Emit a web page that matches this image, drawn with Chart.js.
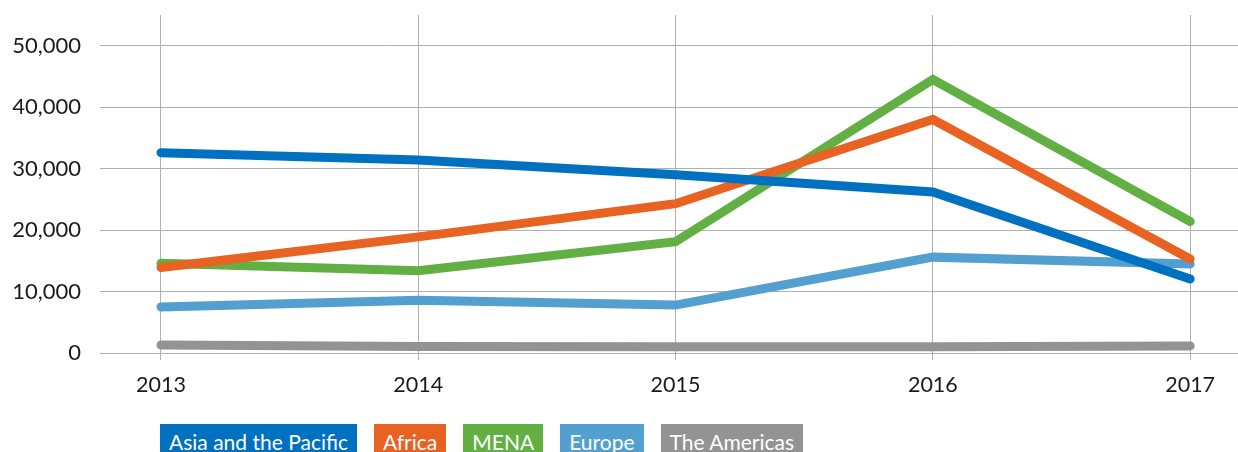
<!DOCTYPE html>
<html>
<head>
<meta charset="utf-8">
<script src="https://cdn.jsdelivr.net/npm/chart.js@4"></script>
<style>
  html, body { margin: 0; padding: 0; background: #fff; overflow: hidden; }
  #wrap { position: relative; width: 1238px; height: 452px; }
  #legend { position: absolute; left: 160px; top: 424px; display: flex; gap: 17px; }
  #legend span {
    display: block; height: 30px; padding: 3px 9px 0 9px; box-sizing: border-box;
    color: #fff; font: 21px Lato, "Open Sans", sans-serif; line-height: 30px; white-space: nowrap;
  }
</style>
</head>
<body>
<div id="wrap">
  <canvas id="c" width="1238" height="400"></canvas>
  <div id="legend"></div>
</div>
<script>
// Datos
const years = ["2013", "2014", "2015", "2016", "2017"];
const seriesNames = ["Asia and the Pacific", "Africa", "MENA", "Europe", "The Americas"];
const seriesColors = ["#0070c0", "#e86222", "#62b044", "#529fd0", "#939393"];
const asiaPacific = [32600, 31400, 29000, 26200, 12050];
const africa = [13900, 18900, 24300, 38000, 15300];
const mena = [14600, 13400, 18100, 44500, 21400];
const europe = [7500, 8600, 7800, 15600, 14500];
const americas = [1300, 1050, 1000, 1000, 1150];
const yTicks = [0, 10000, 20000, 30000, 40000, 50000];

const allValues = [asiaPacific, africa, mena, europe, americas];
const FONT = "Lato, 'Open Sans', sans-serif";

const datasets = allValues.map((vals, i) => ({
  label: seriesNames[i],
  data: vals.map((v, k) => ({ x: k, y: v })),
  borderColor: seriesColors[i],
  backgroundColor: seriesColors[i],
  borderWidth: 9,
  borderCapStyle: "round",
  borderJoinStyle: "miter",
  pointRadius: 0,
  tension: 0,
  fill: false,
}));

new Chart(document.getElementById("c").getContext("2d"), {
  type: "line",
  data: { datasets },
  options: {
    responsive: false,
    animation: false,
    layout: { padding: { top: 15, right: 0, left: 0, bottom: 0 } },
    plugins: { legend: { display: false }, tooltip: { enabled: false } },
    scales: {
      x: {
        type: "linear",
        min: -0.237,
        max: 4.186,
        afterBuildTicks: (s) => { s.ticks = years.map((_, k) => ({ value: k })); },
        afterFit: (s) => { s.height = 47; s.paddingLeft = 0; s.paddingRight = 0; },
        border: { display: false },
        grid: { color: "#b0b0b0", lineWidth: 1, drawTicks: true, tickLength: 7 },
        ticks: {
          color: "#1a1a1a",
          font: { family: FONT, size: 21.5 },
          padding: 12,
          maxRotation: 0,
          callback: (v) => years[v],
        },
      },
      y: {
        min: 0,
        max: 55000,
        afterBuildTicks: (s) => { s.ticks = yTicks.map((v) => ({ value: v })); },
        afterFit: (s) => { s.width = 100; s.paddingTop = 0; s.paddingBottom = 0; },
        border: { display: false },
        grid: { color: "#b0b0b0", lineWidth: 1, drawTicks: false },
        ticks: {
          color: "#1a1a1a",
          font: { family: FONT, size: 22 },
          padding: 19,
          callback: (v) => v.toLocaleString("en-US"),
        },
      },
    },
  },
});

const legend = document.getElementById("legend");
seriesNames.forEach((name, i) => {
  const s = document.createElement("span");
  s.textContent = name;
  s.style.background = seriesColors[i];
  legend.appendChild(s);
});
</script>
</body>
</html>
